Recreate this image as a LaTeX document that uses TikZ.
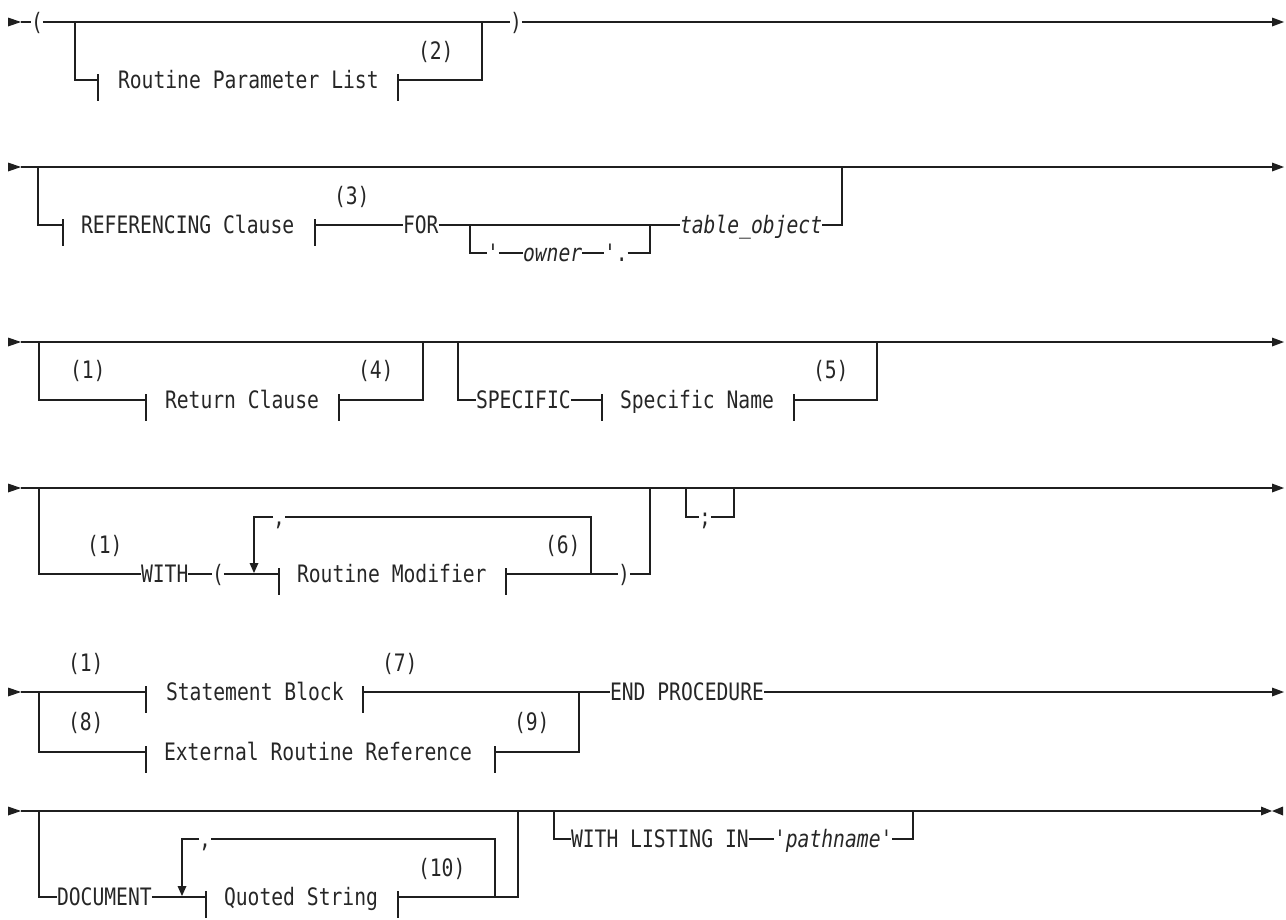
\documentclass[tikz,border=0pt]{standalone}
\usepackage{fontspec}
\newfontfamily\dgmono[FakeStretch=0.82,Ligatures=TeXOff]{DejaVu Sans Mono}
\usetikzlibrary{calc}
\newcommand{\dgtick}[1]{\draw (#1) ++(0,-6) -- ++(0,27);}
\newcommand{\dgstart}[1]{\fill (#1) -- ++(-13,-4.5) -- ++(0,9) -- cycle;}
\newcommand{\dgend}[1]{\fill (#1) -- ++(-12,-4.5) -- ++(0,9) -- cycle;}
\newcommand{\dgdown}[1]{\fill (#1) -- ++(-4.5,-10) -- ++(9,0) -- cycle;}
\begin{document}
\begin{tikzpicture}[x=1pt,y=-1pt,line width=1.25pt,color=black!88,
  lbl/.style={font=\dgmono\fontsize{24}{26}\selectfont, text=black!85, inner sep=0pt, outer sep=0pt, text height=19.5pt, text depth=2pt, anchor=west},
  var/.style={lbl, font=\dgmono\fontsize{24}{26}\selectfont\itshape}]
\useasboundingbox (0,0) rectangle (1286,919);

% ---------------- Row 1
\coordinate (r1s) at (21,22);
\coordinate (r1a) at (75,22);
\coordinate (r1b) at (482,22);
\coordinate (r1ee) at (1272,22);
\coordinate (r1e) at (1284,22);
\coordinate (r1t1) at (98,80);
\coordinate (r1t2) at (398,80);
\node[lbl] (r1lp) at (31,22) {(};
\node[lbl] (r1rp) at (510,22) {)};
\node[lbl] (r1txt) at (118,80) {Routine Parameter List};
\node[lbl] (r1n2) at (418,51) {(2)};
\dgstart{r1s}
\draw (r1s) -- (r1lp.west);
\draw (r1lp.east) -- (r1rp.west);
\draw (r1rp.east) -- (r1ee);
\dgend{r1e}
\draw (r1a) |- (r1t1);
\draw (r1t2) -| (r1b);
\dgtick{r1t1}
\dgtick{r1t2}

% ---------------- Row 2
\coordinate (r2s) at (21,167);
\coordinate (r2a) at (38,167);
\coordinate (r2b) at (842,167);
\coordinate (r2ee) at (1272,167);
\coordinate (r2e) at (1284,167);
\coordinate (r2t1) at (63,225);
\coordinate (r2t2) at (315,225);
\coordinate (r2o1) at (470,225);
\coordinate (r2o2) at (650,225);
\node[lbl] (refc) at (81,225) {REFERENCING Clause};
\node[lbl] (r2n3) at (334,196) {(3)};
\node[lbl] (for) at (403,225) {FOR};
\node[lbl] (q1) at (487,253) {'};
\node[var] (own) at (523,253) {owner};
\node[lbl] (q2) at (604,253) {'.};
\node[var] (tobj) at (680,225) {table\_object};
\dgstart{r2s}
\draw (r2s) -- (r2ee);
\dgend{r2e}
\draw (r2a) |- (r2t1);
\dgtick{r2t1}
\dgtick{r2t2}
\draw (r2t2) -- (for.west);
\draw (for.east) -- (tobj.west);
\draw (r2o1) |- (q1.west);
\draw (q1.east) -- (own.west);
\draw (own.east) -- (q2.west);
\draw (q2.east) -| (r2o2);
\draw (tobj.east) -| (r2b);

% ---------------- Row 3
\coordinate (r3s) at (21,342);
\coordinate (r3a) at (39,342);
\coordinate (r3b) at (423,342);
\coordinate (r3c) at (458,342);
\coordinate (r3d) at (877,342);
\coordinate (r3ee) at (1272,342);
\coordinate (r3e) at (1284,342);
\coordinate (r3t1) at (146,400);
\coordinate (r3t2) at (339,400);
\coordinate (r3t3) at (602,400);
\coordinate (r3t4) at (794,400);
\node[lbl] (ret) at (165,400) {Return Clause};
\node[lbl] (spec) at (476,400) {SPECIFIC};
\node[lbl] (sname) at (620,400) {Specific Name};
\node[lbl] (r3n1) at (70,370) {(1)};
\node[lbl] (r3n4) at (358,370) {(4)};
\node[lbl] (r3n5) at (813,370) {(5)};
\dgstart{r3s}
\draw (r3s) -- (r3ee);
\dgend{r3e}
\draw (r3a) |- (r3t1);
\draw (r3t2) -| (r3b);
\draw (r3c) |- (spec.west);
\draw (spec.east) -- (r3t3);
\draw (r3t4) -| (r3d);
\dgtick{r3t1}
\dgtick{r3t2}
\dgtick{r3t3}
\dgtick{r3t4}

% ---------------- Row 4
\coordinate (r4s) at (21,488);
\coordinate (r4a) at (39,488);
\coordinate (r4b) at (650,488);
\coordinate (r4c) at (686,488);
\coordinate (r4d) at (734,488);
\coordinate (r4ee) at (1272,488);
\coordinate (r4e) at (1284,488);
\coordinate (r4t1) at (279,574);
\coordinate (r4t2) at (506,574);
\coordinate (r4lr) at (591,574);
\coordinate (r4ll) at (254,566);
\coordinate (r4tip) at (254,573);
\node[lbl] (with) at (141,574) {WITH};
\node[lbl] (lpar) at (212,574) {(};
\node[lbl] (rmod) at (297,574) {Routine Modifier};
\node[lbl] (rpar) at (618,574) {)};
\node[lbl] (cm4) at (273,517) {,};
\node[lbl] (semi) at (699,517) {;};
\node[lbl] (r4n1) at (87,545) {(1)};
\node[lbl] (r4n6) at (545,545) {(6)};
\dgstart{r4s}
\draw (r4s) -- (r4ee);
\dgend{r4e}
\draw (r4a) |- (with.west);
\draw (with.east) -- (lpar.west);
\draw (lpar.east) -- (r4t1);
\dgtick{r4t1}
\dgtick{r4t2}
\draw (r4t2) -- (rpar.west);
\draw (rpar.east) -| (r4b);
\draw (r4lr) |- (cm4.east);
\draw (cm4.west) -| (r4ll);
\dgdown{r4tip}
\draw (r4c) |- (semi.west);
\draw (semi.east) -| (r4d);

% ---------------- Row 5
\coordinate (r5s) at (21,692);
\coordinate (r5a) at (39,692);
\coordinate (r5b) at (579,692);
\coordinate (r5ee) at (1272,692);
\coordinate (r5e) at (1284,692);
\coordinate (r5t1) at (146,692);
\coordinate (r5t2) at (363,692);
\coordinate (r5t3) at (146,752);
\coordinate (r5t4) at (495,752);
\node[lbl] (stmt) at (166,692) {Statement Block};
\node[lbl] (endp) at (610,692) {END PROCEDURE};
\node[lbl] (ext) at (164,752) {External Routine Reference};
\node[lbl] (r5n1) at (68,663) {(1)};
\node[lbl] (r5n7) at (382,663) {(7)};
\node[lbl] (r5n8) at (68,722) {(8)};
\node[lbl] (r5n9) at (514,722) {(9)};
\dgstart{r5s}
\draw (r5s) -- (r5t1);
\draw (r5a) |- (r5t3);
\draw (r5t2) -- (endp.west);
\draw (endp.east) -- (r5ee);
\dgend{r5e}
\draw (r5t4) -| (r5b);
\dgtick{r5t1}
\dgtick{r5t2}
\dgtick{r5t3}
\dgtick{r5t4}

% ---------------- Row 6
\coordinate (r6s) at (21,811);
\coordinate (r6a) at (39,811);
\coordinate (r6b) at (518,811);
\coordinate (r6c) at (554,811);
\coordinate (r6d) at (913,811);
\coordinate (r6k1) at (919,811);
\coordinate (r6k2) at (942,811);
\coordinate (r6x) at (1261,811);
\coordinate (r6m) at (1272,811);
\coordinate (r6t1) at (206,897);
\coordinate (r6t2) at (398,897);
\coordinate (r6lr) at (495,897);
\coordinate (r6ll) at (182,888);
\coordinate (r6tip) at (182,896);
\node[lbl] (doc) at (57,897) {DOCUMENT};
\node[lbl] (qs) at (224,897) {Quoted String};
\node[lbl] (cm6) at (199,839) {,};
\node[lbl] (r6n10) at (418,868) {(10)};
\node[lbl] (wl) at (571,839) {WITH LISTING IN};
\node[var] (pth) at (774,839) {'pathname'};
\dgstart{r6s}
\draw (r6s) -- (r6x);
\fill (r6m) -- ++(-11,-4.5) -- ++(0,9) -- cycle;
\fill (r6m) -- ++(11,-4.5) -- ++(0,9) -- cycle;
\draw[line width=2.6pt] (r6k1) -- (r6k2);
\draw (r6a) |- (doc.west);
\draw (doc.east) -- (r6t1);
\dgtick{r6t1}
\dgtick{r6t2}
\draw (r6t2) -| (r6b);
\draw (r6lr) |- (cm6.east);
\draw (cm6.west) -| (r6ll);
\dgdown{r6tip}
\draw (r6c) |- (wl.west);
\draw (wl.east) -- (pth.west);
\draw (pth.east) -| (r6d);
\end{tikzpicture}
\end{document}
